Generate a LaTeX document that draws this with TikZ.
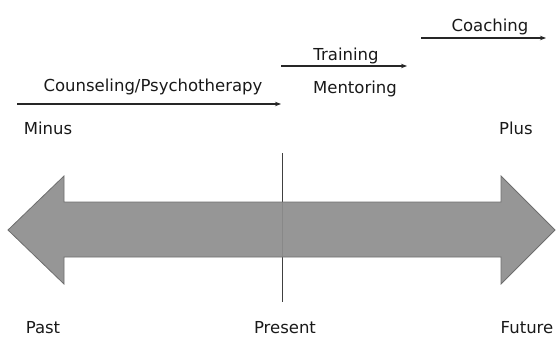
\documentclass[tikz,border=0pt]{standalone}
\usepackage{fontspec}
\setmainfont{DejaVu Sans}
\usetikzlibrary{arrows.meta}
\definecolor{bigfill}{HTML}{8E8E8E}
\definecolor{bigedge}{HTML}{6E6E6E}
\tikzset{
  lbl/.style={inner sep=0pt, anchor=base, font=\fontsize{16.5}{18}\selectfont, text=black!90},
  thinarrow/.style={line width=1.5pt, draw=black!85, -{Stealth[length=6pt,width=4.5pt]}},
  bigarrow/.style={fill=bigfill, draw=bigedge, line width=0.8pt, line join=miter},
  divider/.style={line width=0.9pt, draw=black!75}
}
\begin{document}
\begin{tikzpicture}[x=1pt,y=-1pt]
\useasboundingbox (0,0) rectangle (558,338);
% labels
\node[lbl] (coach) at (490,31) {Coaching};
\node[lbl] (train) at (346,60) {Training};
\node[lbl] (mentor) at (355,93) {Mentoring};
\node[lbl] (couns) at (153,91) {Counseling/Psychotherapy};
\node[lbl] (minus) at (48,134) {Minus};
\node[lbl] (plus) at (516,134) {Plus};
\node[lbl] (past) at (43,333) {Past};
\node[lbl] (present) at (285,333) {Present};
\node[lbl] (future) at (527,333) {Future};
% thin arrows
\coordinate (c1) at (421,38); \coordinate (c2) at (546,38);
\coordinate (t1) at (281,66); \coordinate (t2) at (407,66);
\coordinate (p1) at (17,104); \coordinate (p2) at (281,104);
\draw[thinarrow] (c1) -- (c2);
\draw[thinarrow] (t1) -- (t2);
\draw[thinarrow] (p1) -- (p2);
% divider
\coordinate (d1) at (282,153); \coordinate (d2) at (282,302);
\draw[divider] (d1) -- (d2);
% big double arrow
\draw[bigarrow, fill opacity=0.93] (8,230) -- (64,176) -- (64,202) -- (501,202) -- (501,176)
  -- (555,230) -- (501,284) -- (501,257) -- (64,257) -- (64,284) -- cycle;
\end{tikzpicture}
\end{document}
